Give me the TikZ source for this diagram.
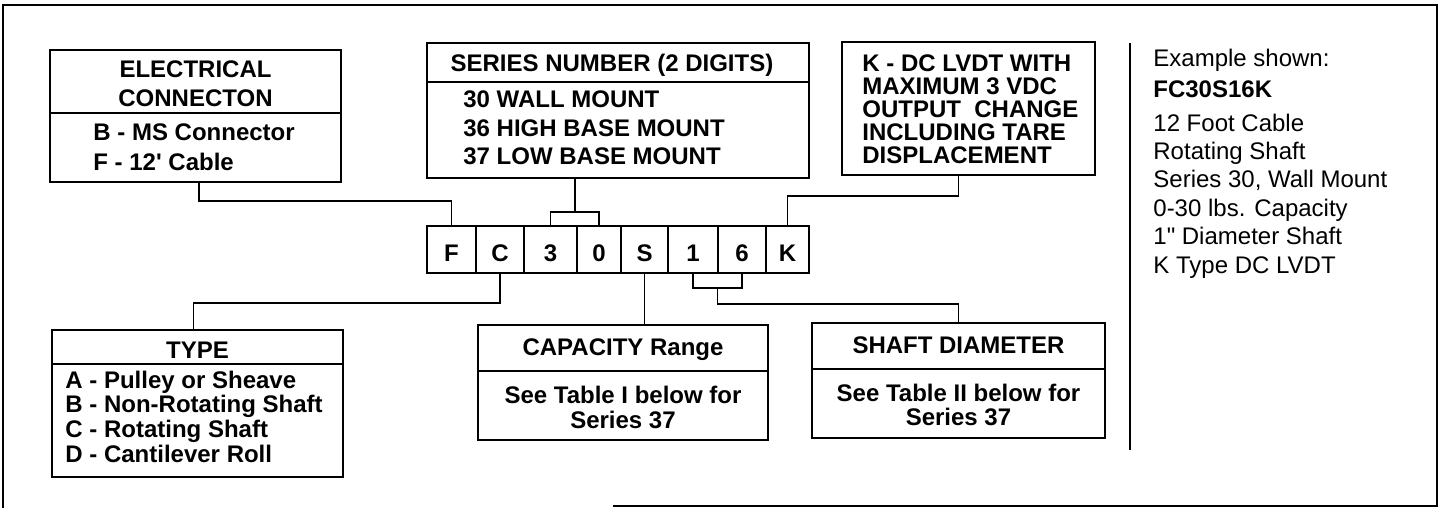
\documentclass[tikz,border=0pt]{standalone}
\usepackage{fontspec}
\setmainfont{Liberation Sans}
\usetikzlibrary{calc}

\begin{document}
\begin{tikzpicture}[x=0.5pt, y=-0.5pt,
  box/.style={draw, line width=0.8pt, inner sep=0pt},
  cell/.style={draw, line width=0.8pt, inner sep=0pt, minimum height=23.5pt,
    text height=12.5pt, text depth=0pt, font=\bfseries\fontsize{12}{14}\selectfont},
  link/.style={line width=0.8pt},
  head/.style={inner sep=0pt, align=center, anchor=base, font=\bfseries\fontsize{12}{14.5}\selectfont},
  body/.style={inner sep=0pt, align=left, anchor=base west, font=\bfseries\fontsize{12}{14.5}\selectfont},
  note/.style={inner sep=0pt, align=left, anchor=base west, font=\fontsize{12}{14.2}\selectfont}]
  \useasboundingbox (0,0) rectangle (1442,508);

  % Frame
  \draw[link] (613,506) -- (1437,506) -- (1437,5) -- (3,5) -- (3,508);
  \draw[link] (1130,43) -- (1130,450);

  % Boxes above the code (multi-line texts sit on their last baseline)
  \node[box, minimum width=145.5pt, minimum height=66pt] (elec) at (195.5,116) {};
  \draw[link] ($(elec.north west)+(0,64)$) -- ($(elec.north east)+(0,64)$);
  \node[head] (elecT) at (elec.north |- 0,107) {ELECTRICAL\\CONNECTON};
  \node[body, font=\bfseries\fontsize{12}{15}\selectfont] (elecB) at (93,170) {B - MS Connector\\F - 12\textquotesingle{} Cable};

  \node[box, minimum width=191pt, minimum height=67.5pt] (ser) at (618,110.5) {};
  \draw[link] ($(ser.north west)+(0,40)$) -- ($(ser.north east)+(0,40)$);
  \node[head] (serT) at (612,72) {SERIES NUMBER (2 DIGITS)};
  \node[body, font=\bfseries\fontsize{12}{14.25}\selectfont] (serB) at (463,165) {30 WALL MOUNT\\36 HIGH BASE MOUNT\\37 LOW BASE MOUNT};

  \node[box, minimum width=126.5pt, minimum height=66.5pt] (kbox) at (968.5,108.5) {};
  \node[body, font=\bfseries\fontsize{12}{11.4}\selectfont] (kT) at (862,163) {K - DC LVDT WITH\\MAXIMUM 3 VDC\\OUTPUT\ \ CHANGE\\INCLUDING TARE\\DISPLACEMENT};

  % Code
  \foreach \ch/\xl/\xr [count=\i] in {F/427/476, C/476/524, 3/524/577, 0/577/621, S/621/668, 1/668/718, 6/718/766, K/766/809}
    \node[cell, minimum width={(\xr-\xl)*0.5pt}] (c\i) at ({(\xl+\xr)/2},249.5) {\ch};

  % Boxes below the code
  \node[box, minimum width=145.5pt, minimum height=73.5pt] (type) at (197.5,403.5) {};
  \draw[link] ($(type.north west)+(0,35)$) -- ($(type.north east)+(0,35)$);
  \node[head] (typeT) at (type.north |- 0,358) {TYPE};
  \node[body, font=\bfseries\fontsize{12}{12.3}\selectfont] (typeB) at (65,462) {A - Pulley or Sheave\\B - Non-Rotating Shaft\\C - Rotating Shaft\\D - Cantilever Roll};

  \node[box, minimum width=145pt, minimum height=57.5pt] (cap) at (623,382.5) {};
  \draw[link] ($(cap.north west)+(0,47)$) -- ($(cap.north east)+(0,47)$);
  \node[head] (capT) at (cap.north |- 0,355) {CAPACITY Range};
  \node[head, font=\bfseries\fontsize{12}{12.5}\selectfont] (capB) at (cap.north |- 0,428) {See Table I below for\\Series 37};

  \node[box, minimum width=146.5pt, minimum height=57.5pt] (shaft) at (958.5,380.5) {};
  \draw[link] ($(shaft.north west)+(0,47)$) -- ($(shaft.north east)+(0,47)$);
  \node[head] (shaftT) at (shaft.north |- 0,353) {SHAFT DIAMETER};
  \node[head, font=\bfseries\fontsize{12}{11.75}\selectfont] (shaftB) at (shaft.north |- 0,425) {See Table II below for\\Series 37};

  % Connectors
  \draw[link] ([xshift=1.75pt]elec.south) -- ++(0,18) -| (c1.north);
  \draw[link] (c3.north) -- ++(0,-13) -| (c4.north);
  \coordinate (serJoin) at ($(c3.north)!0.5!(c4.north)+(0,-13)$);
  \draw[link] (serJoin) -- (serJoin |- ser.south);
  \draw[link] ([xshift=-5pt]kbox.south) -- ++(0,20) -| (c8.north);
  \draw[link] (c2.south) -- ++(0,29) -| ([xshift=-2pt]type.north);
  \draw[link] (c5.south) -- (c5.south |- cap.north);
  \draw[link] (c6.south) -- ++(0,14) -| (c7.south);
  \coordinate (shJoin) at ($(c6.south)!0.5!(c7.south)+(0,14)$);
  \draw[link] (shJoin) -- ++(0,16) -| (shaft.north);

  % Example
  \node[note] (exHead) at (1153,67) {Example shown:};
  \node[note, font=\bfseries\fontsize{12}{14}\selectfont] (exCode) at (1153,98) {FC30S16K};
  \node[note] (exList) at (1153,273) {12 Foot Cable\\Rotating Shaft\\Series 30, Wall Mount\\0-30 lbs. Capacity\\1\textquotedbl{} Diameter Shaft\\K Type DC LVDT};
\end{tikzpicture}
\end{document}
